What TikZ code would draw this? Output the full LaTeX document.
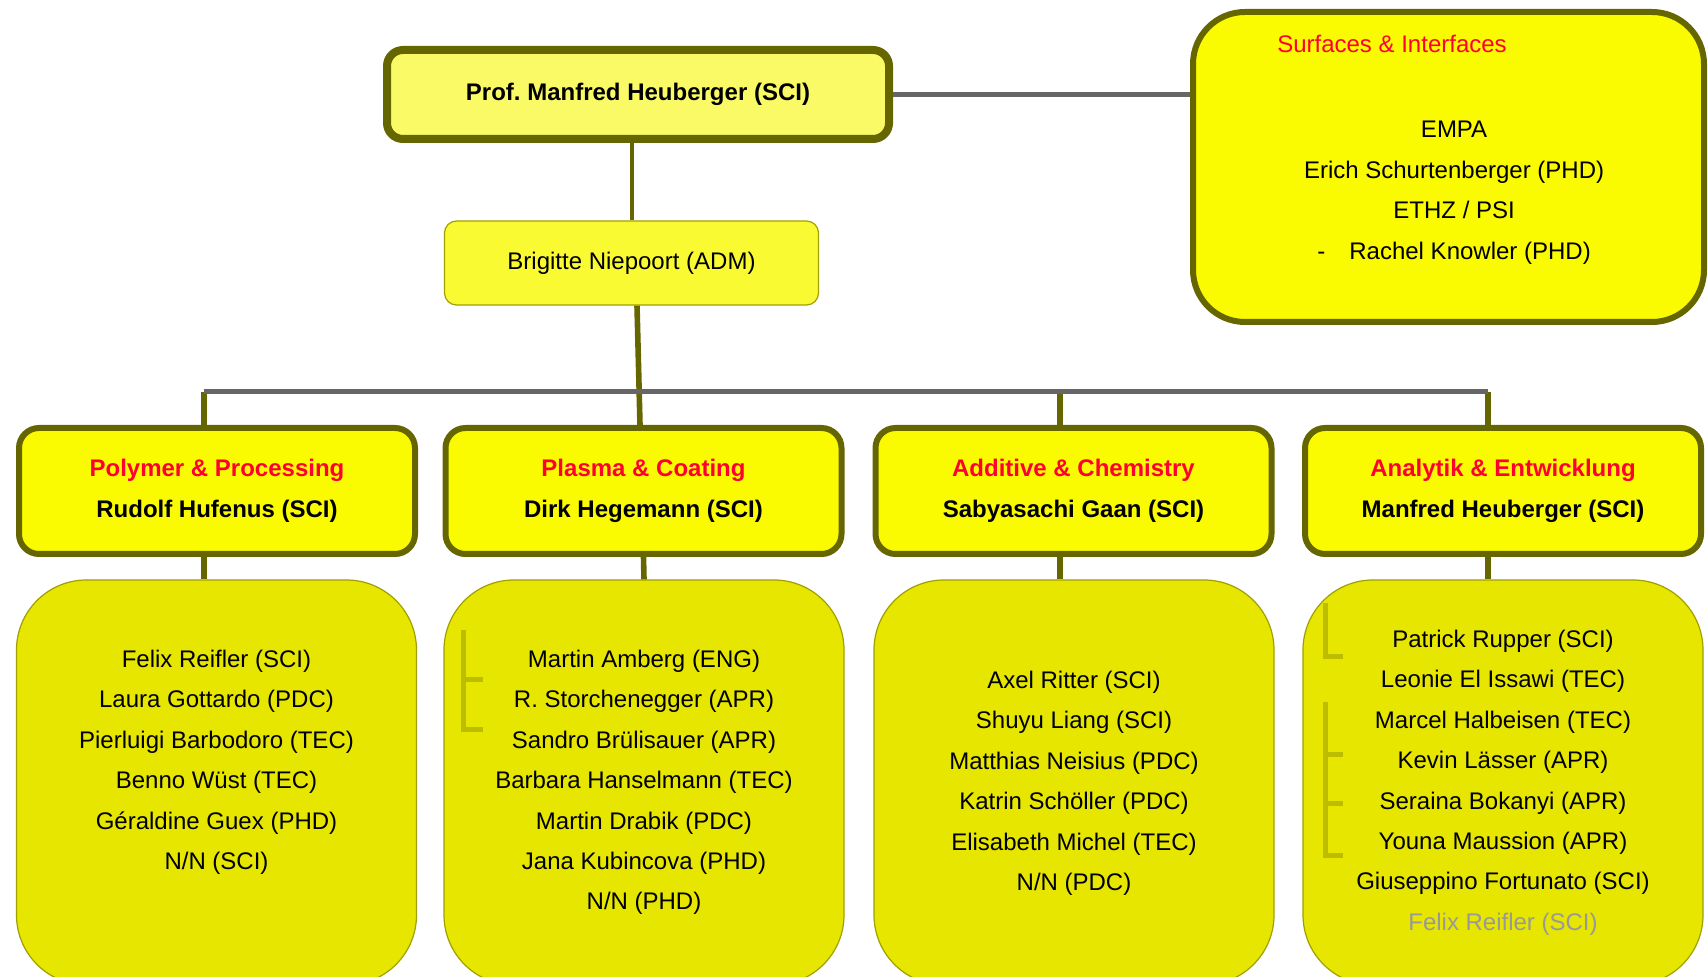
\documentclass[tikz,border=0pt]{standalone}
\usepackage{fontspec}
\setmainfont{Liberation Sans}
\usepackage{xcolor}
\usepackage{tikz}
\usetikzlibrary{positioning}

\definecolor{oliveline}{HTML}{666600}
\definecolor{grayline}{HTML}{666666}
\definecolor{headyellow}{HTML}{FAFA00}
\definecolor{topyellow}{HTML}{FAFA66}
\definecolor{admyellow}{HTML}{FAFA33}
\definecolor{listyellow}{HTML}{E6E600}
\definecolor{listborder}{HTML}{A0A000}
\definecolor{bracketcol}{HTML}{BDBD00}
\definecolor{groupred}{HTML}{FF0033}
\definecolor{fadedgray}{HTML}{999999}

\tikzstyle{chief} = [rectangle, rounded corners=8pt, minimum width=251pt, minimum height=44.5pt, draw=oliveline, line width=4pt, fill=topyellow, font=\bfseries]
\tikzstyle{admin} = [rectangle, rounded corners=6pt, minimum width=187pt, minimum height=42pt, draw=listborder, line width=0.6pt, fill=admyellow]
\tikzstyle{partner} = [rectangle, rounded corners=26pt, minimum width=255.5pt, minimum height=155pt, draw=oliveline, line width=3pt, fill=headyellow]
\tikzstyle{grouphead} = [rectangle, rounded corners=10pt, minimum width=198pt, minimum height=63pt, draw=oliveline, line width=3pt, fill=headyellow, align=center, font=\bfseries]
\tikzstyle{listbox} = [rectangle, rounded corners=35pt, minimum width=200pt, minimum height=202.5pt, draw=listborder, line width=0.6pt, fill=listyellow]
\tikzstyle{names} = [inner sep=0pt, align=center]
\tikzstyle{olivelink} = [draw=oliveline, line width=2.8pt]
\tikzstyle{graylink} = [draw=grayline, line width=2.5pt]
\tikzstyle{bracket} = [draw=bracketcol, line width=2.5pt]

\begin{document}
\frenchspacing
\fontsize{12}{20.2}\selectfont
\begin{tikzpicture}[x=0.5pt, y=-0.5pt]

\useasboundingbox (0,0) rectangle (1708,977);
\clip (0,0) rectangle (1708,977);

% top of the chart
\node (prof) [chief] at (638,94.5) {\raisebox{-1.5pt}{Prof.\ Manfred Heuberger (SCI)}};
\node (brig) [admin] at (631.5,263) {Brigitte Niepoort (ADM)};
\node (partner) [partner] at (1448.5,167) {};
\node (surftitle) [text=groupred] at (1392,43.5) {Surfaces \& Interfaces};
\node (partnernames) [names, below=56pt of partner.north, xshift=2.8pt] {EMPA\\ Erich Schurtenberger (PHD)\\ ETHZ / PSI\\ -\hspace{12pt}Rachel Knowler (PHD)};

% group heads
\node (polyhead) [grouphead] at (217,491) {\textcolor{groupred}{Polymer \& Processing}\\ Rudolf Hufenus (SCI)};
\node (plasmahead) [grouphead] at (643.5,491) {\textcolor{groupred}{Plasma \& Coating}\\ Dirk Hegemann (SCI)};
\node (addhead) [grouphead] at (1073.5,491) {\textcolor{groupred}{Additive \& Chemistry}\\ Sabyasachi Gaan (SCI)};
\node (anahead) [grouphead] at (1503,491) {\textcolor{groupred}{Analytik \& Entwicklung}\\ Manfred Heuberger (SCI)};

% group members
\node (polylist) [listbox] at (216.5,782.5) {};
\node (plasmalist) [listbox] at (644,782.5) {};
\node (addlist) [listbox] at (1074,782.5) {};
\node (analist) [listbox] at (1503,782.5) {};

\node (polynames) [names, below=35.2pt of polylist.north] {Felix Reifler (SCI)\\ Laura Gottardo (PDC)\\ Pierluigi Barbodoro (TEC)\\ Benno Wüst (TEC)\\ Géraldine Guex (PHD)\\ N/N (SCI)};
\node (plasmanames) [names, below=35.2pt of plasmalist.north] {Martin Amberg (ENG)\\ R. Storchenegger (APR)\\ Sandro Brülisauer (APR)\\ Barbara Hanselmann (TEC)\\ Martin Drabik (PDC)\\ Jana Kubincova (PHD)\\ N/N (PHD)};
\node (addnames) [names, below=45.7pt of addlist.north] {Axel Ritter (SCI)\\ Shuyu Liang (SCI)\\ Matthias Neisius (PDC)\\ Katrin Schöller (PDC)\\ Elisabeth Michel (TEC)\\ N/N (PDC)};
\node (ananames) [names, below=25.2pt of analist.north] {Patrick Rupper (SCI)\\ Leonie El Issawi (TEC)\\ Marcel Halbeisen (TEC)\\ Kevin Lässer (APR)\\ Seraina Bokanyi (APR)\\ Youna Maussion (APR)\\ Giuseppino Fortunato (SCI)\\ \textcolor{fadedgray}{Felix Reifler (SCI)}};

% brackets in the lists
\draw [bracket] (463,630) -- (463,730) -- (483,730);
\draw [bracket] (463,680) -- (483,680);
\draw [bracket] (1325,603) -- (1325,657) -- (1343,657);
\draw [bracket] (1325,702) -- (1325,855) -- (1343,855);
\draw [bracket] (1325,755) -- (1343,755);
\draw [bracket] (1325,804) -- (1343,804);

% connectors
\coordinate (busleft) at (204,392);
\coordinate (busright) at (1488,392);
\coordinate (addtap) at (1060,392);

\draw [olivelink, line width=2pt] (brig.north) -- (brig.north |- prof.south);
\draw [olivelink] ([xshift=2.75pt]brig.south) -- ([xshift=-1.75pt]plasmahead.north);
\draw [olivelink] (busleft) -- (busleft |- polyhead.north);
\draw [olivelink] (addtap) -- (addtap |- addhead.north);
\draw [olivelink] (busright) -- (busright |- anahead.north);
\draw [olivelink] (busleft |- polyhead.south) -- (busleft |- polylist.north);
\draw [olivelink] (plasmahead.south) -- (plasmalist.north);
\draw [olivelink] (addtap |- addhead.south) -- (addtap |- addlist.north);
\draw [olivelink] (busright |- anahead.south) -- (busright |- analist.north);
\draw [graylink] (busleft) -- (busright);
\draw [graylink] (prof.east) -- (prof.east -| partner.west);

\end{tikzpicture}
\end{document}
